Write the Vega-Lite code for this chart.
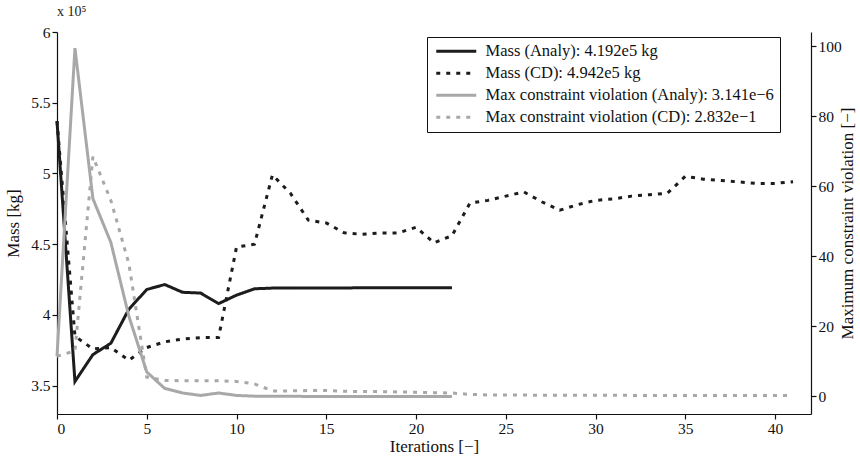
{
  "$schema": "https://vega.github.io/schema/vega-lite/v6.json",
  "autosize": {"type": "none"},
  "padding": {"left": 57, "top": 32, "right": 49, "bottom": 42},
  "width": 754,
  "height": 382,
  "background": "white",
  "title": {"text": "x 10⁵", "anchor": "start", "frame": "group", "offset": 6, "font": "Liberation Serif", "fontSize": 14, "fontWeight": "normal", "color": "#222"},
  "config": {
    "view": {"stroke": null},
    "axis": {"grid": false, "domainColor": "#111", "tickColor": "#111", "labelColor": "#111", "titleColor": "#111", "labelFont": "Liberation Serif", "titleFont": "Liberation Serif", "labelFontSize": 15.5, "titleFontSize": 17, "titleFontWeight": "normal", "tickSize": 5, "labelPadding": 3, "domainWidth": 1.2, "tickWidth": 1.2}
  },
  "datasets": {
    "mass": [
      {"iter": 0, "value": 537000, "series": "Mass (Analy): 4.192e5 kg"},
      {"iter": 1, "value": 353000, "series": "Mass (Analy): 4.192e5 kg"},
      {"iter": 2, "value": 372000, "series": "Mass (Analy): 4.192e5 kg"},
      {"iter": 3, "value": 380000, "series": "Mass (Analy): 4.192e5 kg"},
      {"iter": 4, "value": 404000, "series": "Mass (Analy): 4.192e5 kg"},
      {"iter": 5, "value": 418000, "series": "Mass (Analy): 4.192e5 kg"},
      {"iter": 6, "value": 421500, "series": "Mass (Analy): 4.192e5 kg"},
      {"iter": 7, "value": 416000, "series": "Mass (Analy): 4.192e5 kg"},
      {"iter": 8, "value": 415500, "series": "Mass (Analy): 4.192e5 kg"},
      {"iter": 9, "value": 408000, "series": "Mass (Analy): 4.192e5 kg"},
      {"iter": 10, "value": 414000, "series": "Mass (Analy): 4.192e5 kg"},
      {"iter": 11, "value": 418500, "series": "Mass (Analy): 4.192e5 kg"},
      {"iter": 12, "value": 419000, "series": "Mass (Analy): 4.192e5 kg"},
      {"iter": 13, "value": 419000, "series": "Mass (Analy): 4.192e5 kg"},
      {"iter": 14, "value": 419100, "series": "Mass (Analy): 4.192e5 kg"},
      {"iter": 15, "value": 419100, "series": "Mass (Analy): 4.192e5 kg"},
      {"iter": 16, "value": 419100, "series": "Mass (Analy): 4.192e5 kg"},
      {"iter": 17, "value": 419200, "series": "Mass (Analy): 4.192e5 kg"},
      {"iter": 18, "value": 419200, "series": "Mass (Analy): 4.192e5 kg"},
      {"iter": 19, "value": 419200, "series": "Mass (Analy): 4.192e5 kg"},
      {"iter": 20, "value": 419200, "series": "Mass (Analy): 4.192e5 kg"},
      {"iter": 21, "value": 419200, "series": "Mass (Analy): 4.192e5 kg"},
      {"iter": 22, "value": 419200, "series": "Mass (Analy): 4.192e5 kg"},
      {"iter": 0, "value": 537000, "series": "Mass (CD): 4.942e5 kg"},
      {"iter": 1, "value": 385000, "series": "Mass (CD): 4.942e5 kg"},
      {"iter": 2, "value": 376000, "series": "Mass (CD): 4.942e5 kg"},
      {"iter": 3, "value": 377000, "series": "Mass (CD): 4.942e5 kg"},
      {"iter": 4, "value": 368000, "series": "Mass (CD): 4.942e5 kg"},
      {"iter": 5, "value": 377000, "series": "Mass (CD): 4.942e5 kg"},
      {"iter": 6, "value": 381000, "series": "Mass (CD): 4.942e5 kg"},
      {"iter": 7, "value": 383000, "series": "Mass (CD): 4.942e5 kg"},
      {"iter": 8, "value": 384000, "series": "Mass (CD): 4.942e5 kg"},
      {"iter": 9, "value": 384000, "series": "Mass (CD): 4.942e5 kg"},
      {"iter": 10, "value": 448000, "series": "Mass (CD): 4.942e5 kg"},
      {"iter": 11, "value": 450000, "series": "Mass (CD): 4.942e5 kg"},
      {"iter": 12, "value": 499000, "series": "Mass (CD): 4.942e5 kg"},
      {"iter": 13, "value": 486000, "series": "Mass (CD): 4.942e5 kg"},
      {"iter": 14, "value": 467000, "series": "Mass (CD): 4.942e5 kg"},
      {"iter": 15, "value": 465000, "series": "Mass (CD): 4.942e5 kg"},
      {"iter": 16, "value": 458000, "series": "Mass (CD): 4.942e5 kg"},
      {"iter": 17, "value": 457000, "series": "Mass (CD): 4.942e5 kg"},
      {"iter": 18, "value": 458000, "series": "Mass (CD): 4.942e5 kg"},
      {"iter": 19, "value": 458000, "series": "Mass (CD): 4.942e5 kg"},
      {"iter": 20, "value": 462000, "series": "Mass (CD): 4.942e5 kg"},
      {"iter": 21, "value": 451000, "series": "Mass (CD): 4.942e5 kg"},
      {"iter": 22, "value": 456000, "series": "Mass (CD): 4.942e5 kg"},
      {"iter": 23, "value": 479000, "series": "Mass (CD): 4.942e5 kg"},
      {"iter": 24, "value": 481000, "series": "Mass (CD): 4.942e5 kg"},
      {"iter": 25, "value": 484000, "series": "Mass (CD): 4.942e5 kg"},
      {"iter": 26, "value": 487000, "series": "Mass (CD): 4.942e5 kg"},
      {"iter": 27, "value": 480000, "series": "Mass (CD): 4.942e5 kg"},
      {"iter": 28, "value": 474000, "series": "Mass (CD): 4.942e5 kg"},
      {"iter": 29, "value": 478000, "series": "Mass (CD): 4.942e5 kg"},
      {"iter": 30, "value": 481000, "series": "Mass (CD): 4.942e5 kg"},
      {"iter": 31, "value": 482000, "series": "Mass (CD): 4.942e5 kg"},
      {"iter": 32, "value": 484000, "series": "Mass (CD): 4.942e5 kg"},
      {"iter": 33, "value": 485000, "series": "Mass (CD): 4.942e5 kg"},
      {"iter": 34, "value": 486000, "series": "Mass (CD): 4.942e5 kg"},
      {"iter": 35, "value": 498000, "series": "Mass (CD): 4.942e5 kg"},
      {"iter": 36, "value": 496000, "series": "Mass (CD): 4.942e5 kg"},
      {"iter": 37, "value": 495000, "series": "Mass (CD): 4.942e5 kg"},
      {"iter": 38, "value": 494000, "series": "Mass (CD): 4.942e5 kg"},
      {"iter": 39, "value": 493000, "series": "Mass (CD): 4.942e5 kg"},
      {"iter": 40, "value": 493000, "series": "Mass (CD): 4.942e5 kg"},
      {"iter": 41, "value": 494200, "series": "Mass (CD): 4.942e5 kg"}
    ],
    "cv": [
      {"iter": 0, "value": 11.5, "series": "Max constraint violation (Analy): 3.141e−6"},
      {"iter": 1, "value": 99.5, "series": "Max constraint violation (Analy): 3.141e−6"},
      {"iter": 2, "value": 56.5, "series": "Max constraint violation (Analy): 3.141e−6"},
      {"iter": 3, "value": 44, "series": "Max constraint violation (Analy): 3.141e−6"},
      {"iter": 4, "value": 23, "series": "Max constraint violation (Analy): 3.141e−6"},
      {"iter": 5, "value": 7, "series": "Max constraint violation (Analy): 3.141e−6"},
      {"iter": 6, "value": 2.3, "series": "Max constraint violation (Analy): 3.141e−6"},
      {"iter": 7, "value": 1.0, "series": "Max constraint violation (Analy): 3.141e−6"},
      {"iter": 8, "value": 0.3, "series": "Max constraint violation (Analy): 3.141e−6"},
      {"iter": 9, "value": 1.0, "series": "Max constraint violation (Analy): 3.141e−6"},
      {"iter": 10, "value": 0.3, "series": "Max constraint violation (Analy): 3.141e−6"},
      {"iter": 11, "value": 0.1, "series": "Max constraint violation (Analy): 3.141e−6"},
      {"iter": 12, "value": 0.05, "series": "Max constraint violation (Analy): 3.141e−6"},
      {"iter": 13, "value": 0.04, "series": "Max constraint violation (Analy): 3.141e−6"},
      {"iter": 14, "value": 0.03, "series": "Max constraint violation (Analy): 3.141e−6"},
      {"iter": 15, "value": 0.02, "series": "Max constraint violation (Analy): 3.141e−6"},
      {"iter": 16, "value": 0.01, "series": "Max constraint violation (Analy): 3.141e−6"},
      {"iter": 17, "value": 0.01, "series": "Max constraint violation (Analy): 3.141e−6"},
      {"iter": 18, "value": 0.005, "series": "Max constraint violation (Analy): 3.141e−6"},
      {"iter": 19, "value": 0.002, "series": "Max constraint violation (Analy): 3.141e−6"},
      {"iter": 20, "value": 0.001, "series": "Max constraint violation (Analy): 3.141e−6"},
      {"iter": 21, "value": 0.0001, "series": "Max constraint violation (Analy): 3.141e−6"},
      {"iter": 22, "value": 0.000003141, "series": "Max constraint violation (Analy): 3.141e−6"},
      {"iter": 0, "value": 11.5, "series": "Max constraint violation (CD): 2.832e−1"},
      {"iter": 1, "value": 13, "series": "Max constraint violation (CD): 2.832e−1"},
      {"iter": 2, "value": 68.5, "series": "Max constraint violation (CD): 2.832e−1"},
      {"iter": 3, "value": 56, "series": "Max constraint violation (CD): 2.832e−1"},
      {"iter": 4, "value": 38, "series": "Max constraint violation (CD): 2.832e−1"},
      {"iter": 5, "value": 5.5, "series": "Max constraint violation (CD): 2.832e−1"},
      {"iter": 6, "value": 4.6, "series": "Max constraint violation (CD): 2.832e−1"},
      {"iter": 7, "value": 4.5, "series": "Max constraint violation (CD): 2.832e−1"},
      {"iter": 8, "value": 4.5, "series": "Max constraint violation (CD): 2.832e−1"},
      {"iter": 9, "value": 4.5, "series": "Max constraint violation (CD): 2.832e−1"},
      {"iter": 10, "value": 4.3, "series": "Max constraint violation (CD): 2.832e−1"},
      {"iter": 11, "value": 3.6, "series": "Max constraint violation (CD): 2.832e−1"},
      {"iter": 12, "value": 1.6, "series": "Max constraint violation (CD): 2.832e−1"},
      {"iter": 13, "value": 1.6, "series": "Max constraint violation (CD): 2.832e−1"},
      {"iter": 14, "value": 1.7, "series": "Max constraint violation (CD): 2.832e−1"},
      {"iter": 15, "value": 1.7, "series": "Max constraint violation (CD): 2.832e−1"},
      {"iter": 16, "value": 1.5, "series": "Max constraint violation (CD): 2.832e−1"},
      {"iter": 17, "value": 1.4, "series": "Max constraint violation (CD): 2.832e−1"},
      {"iter": 18, "value": 1.4, "series": "Max constraint violation (CD): 2.832e−1"},
      {"iter": 19, "value": 1.3, "series": "Max constraint violation (CD): 2.832e−1"},
      {"iter": 20, "value": 1.2, "series": "Max constraint violation (CD): 2.832e−1"},
      {"iter": 21, "value": 1.1, "series": "Max constraint violation (CD): 2.832e−1"},
      {"iter": 22, "value": 1.0, "series": "Max constraint violation (CD): 2.832e−1"},
      {"iter": 23, "value": 0.6, "series": "Max constraint violation (CD): 2.832e−1"},
      {"iter": 24, "value": 0.45, "series": "Max constraint violation (CD): 2.832e−1"},
      {"iter": 25, "value": 0.42, "series": "Max constraint violation (CD): 2.832e−1"},
      {"iter": 26, "value": 0.4, "series": "Max constraint violation (CD): 2.832e−1"},
      {"iter": 27, "value": 0.38, "series": "Max constraint violation (CD): 2.832e−1"},
      {"iter": 28, "value": 0.36, "series": "Max constraint violation (CD): 2.832e−1"},
      {"iter": 29, "value": 0.35, "series": "Max constraint violation (CD): 2.832e−1"},
      {"iter": 30, "value": 0.34, "series": "Max constraint violation (CD): 2.832e−1"},
      {"iter": 31, "value": 0.33, "series": "Max constraint violation (CD): 2.832e−1"},
      {"iter": 32, "value": 0.32, "series": "Max constraint violation (CD): 2.832e−1"},
      {"iter": 33, "value": 0.31, "series": "Max constraint violation (CD): 2.832e−1"},
      {"iter": 34, "value": 0.3, "series": "Max constraint violation (CD): 2.832e−1"},
      {"iter": 35, "value": 0.3, "series": "Max constraint violation (CD): 2.832e−1"},
      {"iter": 36, "value": 0.29, "series": "Max constraint violation (CD): 2.832e−1"},
      {"iter": 37, "value": 0.29, "series": "Max constraint violation (CD): 2.832e−1"},
      {"iter": 38, "value": 0.29, "series": "Max constraint violation (CD): 2.832e−1"},
      {"iter": 39, "value": 0.285, "series": "Max constraint violation (CD): 2.832e−1"},
      {"iter": 40, "value": 0.284, "series": "Max constraint violation (CD): 2.832e−1"},
      {"iter": 41, "value": 0.2832, "series": "Max constraint violation (CD): 2.832e−1"}
    ]
  },
  "encoding": {
    "x": {"field": "iter", "type": "quantitative", "title": "Iterations [−]", "scale": {"domain": [0, 42], "nice": false, "zero": false}, "axis": {"values": [0, 5, 10, 15, 20, 25, 30, 35, 40], "titlePadding": 2, "labelPadding": 2, "encode": {"ticks": {"update": {"y2": {"value": -5}}}}}},
    "color": {"field": "series", "type": "nominal", "scale": {"domain": ["Mass (Analy): 4.192e5 kg", "Mass (CD): 4.942e5 kg", "Max constraint violation (Analy): 3.141e−6", "Max constraint violation (CD): 2.832e−1"], "range": ["#1c1c1c", "#1c1c1c", "#a8a8a8", "#a8a8a8"]},
      "legend": {"title": null, "orient": "none", "legendX": 370, "legendY": 5, "strokeColor": "#111", "fillColor": "white", "padding": 6, "symbolType": "M-1,0H7", "symbolSize": 100, "symbolStrokeWidth": 3, "labelOffset": 36, "labelFont": "Liberation Serif", "labelFontSize": 16.5, "labelColor": "#111", "labelLimit": 0, "rowPadding": 5}},
    "strokeDash": {"field": "series", "type": "nominal", "scale": {"domain": ["Mass (Analy): 4.192e5 kg", "Mass (CD): 4.942e5 kg", "Max constraint violation (Analy): 3.141e−6", "Max constraint violation (CD): 2.832e−1"], "range": [[1, 0], [4, 6], [1, 0], [4, 6]]}, "legend": {"title": null, "orient": "none", "legendX": 370, "legendY": 5}}
  },
  "layer": [
    {
      "data": {"name": "mass"},
      "mark": {"type": "line", "strokeWidth": 3},
      "encoding": {
        "y": {"field": "value", "type": "quantitative", "title": "Mass [kg]", "scale": {"domain": [330000, 600000], "nice": false, "zero": false}, "axis": {"orient": "left", "values": [350000, 400000, 450000, 500000, 550000, 600000], "labelExpr": "format(datum.value/100000, '~g')", "titlePadding": 8, "labelPadding": 2, "encode": {"ticks": {"update": {"x2": {"value": 5}}}}}}
      }
    },
    {
      "data": {"name": "cv"},
      "mark": {"type": "line", "strokeWidth": 3},
      "encoding": {
        "y": {"field": "value", "type": "quantitative", "title": "Maximum constraint violation [−]", "scale": {"domain": [-5, 104.1], "nice": false, "zero": false}, "axis": {"orient": "right", "values": [0, 20, 40, 60, 80, 100], "titlePadding": 15, "titleAngle": 270, "labelPadding": 2, "encode": {"ticks": {"update": {"x2": {"value": -5}}}}}}
      }
    }
  ],
  "resolve": {"scale": {"y": "independent"}, "axis": {"y": "independent"}}
}
